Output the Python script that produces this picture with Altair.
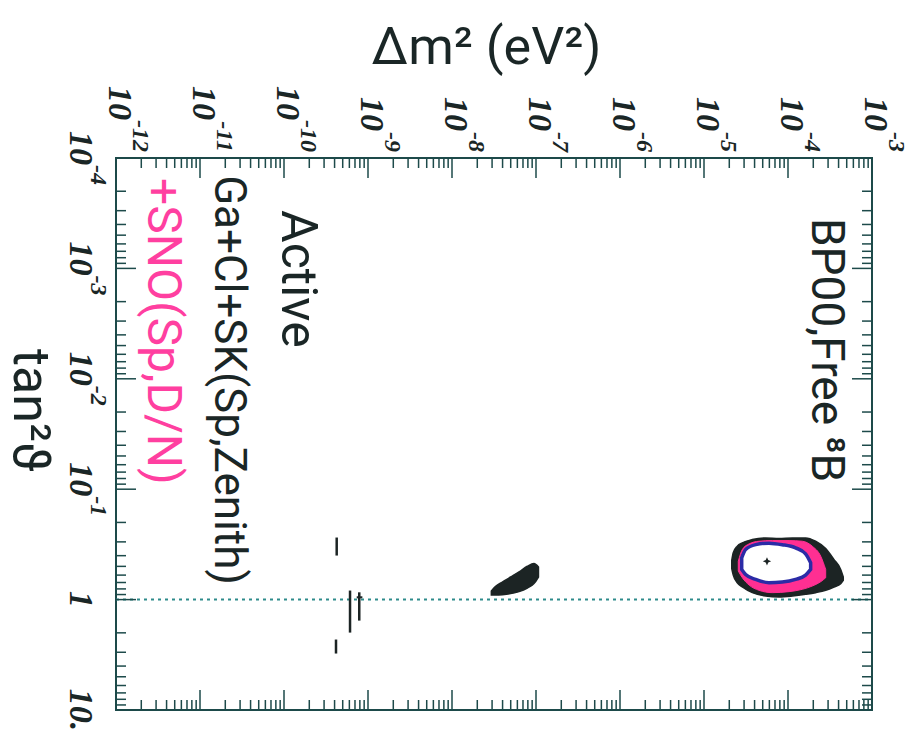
import altair as alt
import pandas as pd

# ---------------- axis ticks / labels ----------------
dm_ticks = [1e-12, 1e-11, 1e-10, 1e-9, 1e-8, 1e-7, 1e-6, 1e-5, 1e-4, 1e-3]
dm_tick_exp = ["-12", "-11", "-10", "-9", "-8", "-7", "-6", "-5", "-4", "-3"]
tan_ticks = [1e-4, 1e-3, 1e-2, 1e-1, 1, 10]
tan_tick_base = ["10", "10", "10", "10", "1", "10."]
tan_tick_exp = ["-4", "-3", "-2", "-1", "", ""]

# ---------------- LMA region (outer, black) ----------------
lma_out_dm = [2.14e-5, 2.23e-5, 2.49e-5, 2.86e-5, 3.76e-5, 5.42e-5, 7.82e-5,
              1.13e-4, 1.62e-4, 2.13e-4, 2.81e-4, 3.53e-4, 4.24e-4, 4.55e-4]
lma_out_lo = [0.442, 0.377, 0.328, 0.306, 0.286, 0.276, 0.280,
              0.276, 0.276, 0.296, 0.345, 0.434, 0.533, 0.625]
lma_out_hi = [0.523, 0.600, 0.703, 0.769, 0.865, 0.927, 0.946,
              0.927, 0.895, 0.865, 0.824, 0.769, 0.718, 0.670]

# ---------------- LMA region (middle, pink) ----------------
lma_mid_dm = [2.56e-5, 2.86e-5, 3.44e-5, 4.52e-5, 6.50e-5, 1.03e-4,
              1.48e-4, 1.95e-4, 2.45e-4, 2.81e-4]
lma_mid_lo = [0.449, 0.352, 0.313, 0.296, 0.292, 0.292, 0.296, 0.329, 0.404, 0.533]
lma_mid_hi = [0.552, 0.634, 0.738, 0.824, 0.865, 0.847, 0.807, 0.753, 0.689, 0.634]

# ---------------- LMA region (inner, blue contour) ----------------
lma_in_dm = [2.81e-5, 3.13e-5, 4.12e-5, 5.94e-5, 8.55e-5, 1.23e-4, 1.62e-4, 1.86e-4]
lma_in_lo = [0.419, 0.352, 0.318, 0.308, 0.318, 0.340, 0.385, 0.464]
lma_in_hi = [0.533, 0.592, 0.656, 0.703, 0.693, 0.656, 0.600, 0.533]

# best fit point
best_dm = [5.62e-5]
best_tan = [0.45]

# ---------------- LOW region (black) ----------------
low_dm = [2.94e-8, 3.31e-8, 3.97e-8, 5.00e-8, 6.28e-8, 7.89e-8, 9.46e-8, 1.07e-7]
low_lo = [0.836, 0.759, 0.693, 0.624, 0.562, 0.499, 0.472, 0.507]
low_hi = [0.908, 0.908, 0.902, 0.883, 0.847, 0.785, 0.716, 0.624]

# ---------------- vacuum islands (thin vertical slivers) ----------------
vac_dm = [4.24e-10, 4.16e-10, 6.11e-10, 7.87e-10]
vac_lo = [0.274, 2.30, 0.828, 0.859]
vac_hi = [0.399, 3.08, 1.99, 1.55]
vac_bar_dm = [7.34e-10]
vac_bar_dm2 = [8.57e-10]
vac_bar_tan = [0.953]

# maximal mixing reference line
maxmix_dm = [1e-12, 1e-3]
maxmix_tan = [1, 1]

# ---------------- annotations ----------------
ann_text = ["BP00,Free ⁸B", "Active", "Ga+Cl+SK(Sp,Zenith)", "+SNO(Sp,D/N)"]
ann_dm = [1.93e-4, 9.46e-11, 1.51e-11, 2.40e-12]
ann_tan = [3.49e-4, 2.96e-4, 1.43e-4, 1.52e-4]
ann_size = [46, 50, 44, 48]
ann_color = ["#1a2626", "#1a2626", "#1a2626", "#ff3fa0"]

# ---------------- styling ----------------
W, H = 756, 552
FRAME = "#1d4a4a"
INK = "#1a2626"
PINK = "#ff2f92"
BLUE = "#2b2ba6"
BLACK = "#1c2424"
TICKFONT = "Liberation Serif"
BASE_FS = 34
EXP_FS = 24

xs = alt.Scale(type="log", domain=[1e-12, 1e-3], nice=False)
ys = alt.Scale(type="log", domain=[1e-4, 10], nice=False, reverse=True)

x_axis = alt.Axis(
    orient="top", values=dm_ticks, labels=False, ticks=False, domain=False, grid=False,
    title="Δm² (eV²)", titleFont="Roboto", titleFontSize=52, titleFontWeight="normal",
    titleColor=INK, titleAngle=0, titleX=370, titleY=-95, titleAlign="center",
    titleBaseline="alphabetic",
)
y_axis = alt.Axis(
    orient="left", values=tan_ticks, labels=False, ticks=False, domain=False, grid=False,
    title="tan²ϑ", titleFont="Roboto", titleFontSize=52, titleFontWeight="normal",
    titleColor=INK, titleAngle=90, titleX=-103, titleY=252, titleAlign="center",
    titleBaseline="alphabetic",
)


def X(f):
    return alt.X(f, type="quantitative", scale=xs, axis=x_axis)


def Y(f):
    return alt.Y(f, type="quantitative", scale=ys, axis=y_axis)


layers = []

# dotted tan^2 = 1 line
layers.append(
    alt.Chart(pd.DataFrame({"dm": maxmix_dm, "tan": maxmix_tan}))
    .mark_line(color="#2e8b8b", strokeWidth=2, strokeDash=[3, 4])
    .encode(x=X("dm"), y=Y("tan"))
)


def blob(dm, lo, hi, fill, stroke, sw):
    df = pd.DataFrame({"dm": dm, "lo": lo, "hi": hi})
    return (
        alt.Chart(df)
        .mark_area(fill=fill, stroke=stroke, strokeWidth=sw, interpolate="monotone",
                   opacity=1, fillOpacity=1)
        .encode(x=X("dm"), y=Y("lo"), y2=alt.Y2("hi"))
    )


layers.append(blob(lma_out_dm, lma_out_lo, lma_out_hi, BLACK, BLACK, 1.5))
layers.append(blob(lma_mid_dm, lma_mid_lo, lma_mid_hi, PINK, PINK, 1))
layers.append(blob(lma_in_dm, lma_in_lo, lma_in_hi, "white", BLUE, 3.5))
layers.append(blob(low_dm, low_lo, low_hi, BLACK, BLACK, 1.5))

layers.append(
    alt.Chart(pd.DataFrame({"dm": best_dm, "tan": best_tan}))
    .mark_point(shape="M0,-1L0.3,-0.3L1,0L0.3,0.3L0,1L-0.3,0.3L-1,0L-0.3,-0.3Z",
                filled=True, color=BLACK, size=70, opacity=1)
    .encode(x=X("dm"), y=Y("tan"))
)

layers.append(
    alt.Chart(pd.DataFrame({"dm": vac_dm, "lo": vac_lo, "hi": vac_hi}))
    .mark_rule(color=BLACK, strokeWidth=2.5)
    .encode(x=X("dm"), y=Y("lo"), y2=alt.Y2("hi"))
)
layers.append(
    alt.Chart(pd.DataFrame({"dm": vac_bar_dm, "dm2": vac_bar_dm2, "tan": vac_bar_tan}))
    .mark_rule(color=BLACK, strokeWidth=2)
    .encode(x=X("dm"), x2=alt.X2("dm2"), y=Y("tan"))
)

# annotations (rotated like the rest of the figure)
for t, d, tn, s, c in zip(ann_text, ann_dm, ann_tan, ann_size, ann_color):
    layers.append(
        alt.Chart(pd.DataFrame({"dm": [d], "tan": [tn], "label": [t]}))
        .mark_text(angle=90, align="left", baseline="alphabetic", font="Roboto",
                   fontSize=s, color=c)
        .encode(x=X("dm"), y=Y("tan"), text="label:N")
    )

# ---------------- tick labels (rotated, base "10" + raised exponent) ----------------
tick_txt = dict(angle=90, baseline="alphabetic", font=TICKFONT, fontStyle="italic",
                fontWeight="bold", color=INK)
top_df = pd.DataFrame({"dm": dm_ticks, "exp": dm_tick_exp})
top_df["base"] = "10"
top_df["n"] = top_df["exp"].str.len()
for n, explen in ((3, 32), (2, 21)):
    sub = top_df[top_df["n"] == n]
    layers.append(
        alt.Chart(sub).mark_text(align="right", dx=-explen, dy=7, fontSize=BASE_FS, **tick_txt)
        .encode(x=X("dm"), y=alt.value(-6), text="base:N")
    )
    layers.append(
        alt.Chart(sub).mark_text(align="right", dx=0, dy=-17, fontSize=EXP_FS, **tick_txt)
        .encode(x=X("dm"), y=alt.value(-6), text="exp:N")
    )

left_df = pd.DataFrame({"tan": tan_ticks, "base": tan_tick_base, "exp": tan_tick_exp})
with_exp = left_df[left_df["exp"] != ""]
no_exp = left_df[left_df["exp"] == ""]
layers.append(
    alt.Chart(with_exp).mark_text(align="left", dx=-27, dy=0, fontSize=BASE_FS, **tick_txt)
    .encode(y=Y("tan"), x=alt.value(-46), text="base:N")
)
layers.append(
    alt.Chart(with_exp).mark_text(align="left", dx=7, dy=-21, fontSize=EXP_FS, **tick_txt)
    .encode(y=Y("tan"), x=alt.value(-46), text="exp:N")
)
layers.append(
    alt.Chart(no_exp).mark_text(align="center", dx=0, dy=0, fontSize=BASE_FS, **tick_txt)
    .encode(y=Y("tan"), x=alt.value(-46), text="base:N")
)

# ---------------- inward tick marks on all four sides ----------------
dm_major = dm_ticks
dm_minor = [k * 10.0 ** e for e in range(-12, -3) for k in range(2, 10)]
tan_major = tan_ticks
tan_minor = [k * 10.0 ** e for e in range(-4, 1) for k in range(2, 10)]

for vals, ln in ((dm_major, 20), (dm_minor, 10)):
    df = pd.DataFrame({"dm": vals})
    layers.append(alt.Chart(df).mark_rule(color=FRAME, strokeWidth=1.5)
                  .encode(x=X("dm"), y=alt.value(0), y2=alt.value(ln)))
    layers.append(alt.Chart(df).mark_rule(color=FRAME, strokeWidth=1.5)
                  .encode(x=X("dm"), y=alt.value(H), y2=alt.value(H - ln)))
for vals, ln in ((tan_major, 20), (tan_minor, 10)):
    df = pd.DataFrame({"tan": vals})
    layers.append(alt.Chart(df).mark_rule(color=FRAME, strokeWidth=1.5)
                  .encode(y=Y("tan"), x=alt.value(0), x2=alt.value(ln)))
    layers.append(alt.Chart(df).mark_rule(color=FRAME, strokeWidth=1.5)
                  .encode(y=Y("tan"), x=alt.value(W), x2=alt.value(W - ln)))

chart = (
    alt.layer(*layers)
    .properties(
        width=W, height=H,
        padding={"left": 116, "top": 158, "right": 45, "bottom": 43},
        autosize=alt.AutoSizeParams(type="none"),
        background="white",
    )
    .configure_view(stroke=FRAME, strokeWidth=2)
)

chart.save("out.html", embed_options={"renderer": "svg", "actions": False})
